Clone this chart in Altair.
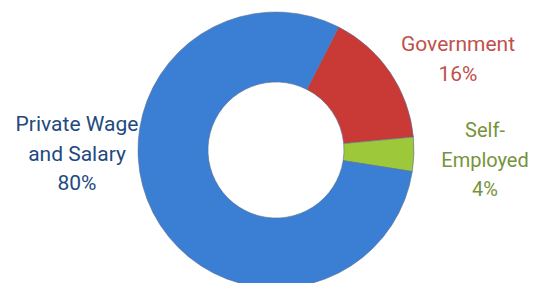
import altair as alt
import pandas as pd
import math

categories = ["Government", "Self-Employed", "Private Wage and Salary"]
values = [16, 4, 80]
label_lines = [["Government", "16%"], ["Self-", "Employed", "4%"], ["Private Wage", "and Salary", "80%"]]
fill_colors = ["#c93a36", "#9cc83a", "#3b7fd4"]
text_colors = ["#c0504d", "#77933c", "#1f4a80"]

df = pd.DataFrame({"category": categories, "value": values, "order": [0, 1, 2]})

start = math.radians(27)

donut = alt.Chart(df).mark_arc(innerRadius=68, outerRadius=138, stroke="#5a6f90", strokeWidth=0.6).encode(
    theta=alt.Theta("value:Q", stack=True, scale=alt.Scale(range=[start, start + 2 * math.pi])),
    color=alt.Color("category:N", scale=alt.Scale(domain=categories, range=fill_colors), legend=None),
    order=alt.Order("order:Q"),
    x=alt.value(268),
    y=alt.value(142),
)

label_pos = [(450, 26), (477, 113), (69, 106)]
label_sizes = [21, 20, 21]
layers = [donut]
for i, cat in enumerate(categories):
    ldf = pd.DataFrame({"label": ["\n".join(label_lines[i])]})
    layers.append(
        alt.Chart(ldf).mark_text(
            font="Roboto", fontSize=label_sizes[i], lineBreak="\n", lineHeight=29.5,
            align="center", baseline="top", color=text_colors[i]
        ).encode(text="label:N", x=alt.value(label_pos[i][0]), y=alt.value(label_pos[i][1]))
    )

chart = alt.layer(*layers).properties(
    width=523, height=275,
    autosize=alt.AutoSizeParams(type="fit", contains="padding"),
    padding=0,
).configure_view(stroke=None)

chart.save("out.html", embed_options={"renderer": "svg", "actions": False})
